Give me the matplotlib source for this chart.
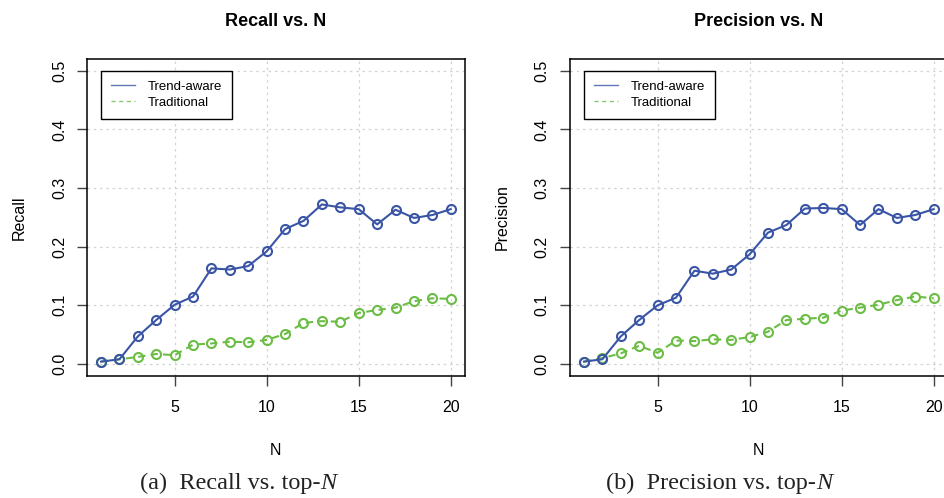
import numpy as np
import matplotlib
matplotlib.use('Agg')
import matplotlib.pyplot as plt

# ---- data ----
n_vals = np.arange(1, 21)

recall_trend = [0.004, 0.008, 0.047, 0.075, 0.101, 0.115, 0.163, 0.161, 0.167, 0.192,
                0.230, 0.244, 0.272, 0.267, 0.264, 0.238, 0.263, 0.249, 0.254, 0.264]
recall_trad = [0.004, 0.008, 0.012, 0.017, 0.015, 0.033, 0.035, 0.038, 0.037, 0.041,
               0.051, 0.070, 0.073, 0.072, 0.087, 0.092, 0.096, 0.107, 0.112, 0.111]

prec_trend = [0.004, 0.008, 0.047, 0.075, 0.100, 0.113, 0.159, 0.154, 0.161, 0.187,
              0.224, 0.237, 0.265, 0.266, 0.264, 0.237, 0.264, 0.249, 0.254, 0.264]
prec_trad = [0.004, 0.010, 0.018, 0.031, 0.019, 0.040, 0.039, 0.042, 0.041, 0.046,
             0.055, 0.075, 0.077, 0.079, 0.091, 0.096, 0.101, 0.109, 0.115, 0.112]

titles   = ['Recall vs. N', 'Precision vs. N']
ylabels  = ['Recall', 'Precision']
captions = ['(a)  Recall vs. top-', '(b)  Precision vs. top-']
series   = [(recall_trend, recall_trad), (prec_trend, prec_trad)]

BLUE  = '#3A55A5'
GREEN = '#6CBD45'

plt.rcParams['font.family'] = ['Liberation Sans', 'DejaVu Sans']

fig = plt.figure(figsize=(9.44, 4.98), dpi=100)
axes_pos = [[0.0922, 0.2456, 0.4001, 0.6359],
            [0.6038, 0.2456, 0.4001, 0.6359]]
cap_x = [0.2437, 0.753]

for i in range(2):
    ax = fig.add_axes(axes_pos[i])
    trend, trad = series[i]

    ax.plot(n_vals, trad, color=GREEN, lw=1.5, dashes=(3.5, 2.5), marker='o', ms=6.5,
            mfc='none', mew=1.5, zorder=3)
    ax.plot(n_vals, trend, color=BLUE, lw=1.5, marker='o', ms=6.5,
            mfc='none', mew=1.5, zorder=4)

    ax.set_xlim(0.24, 20.76)
    ax.set_ylim(-0.02, 0.52)
    ax.set_xticks([5, 10, 15, 20])
    ax.set_yticks([0.0, 0.1, 0.2, 0.3, 0.4, 0.5])
    ax.set_yticklabels(['0.0', '0.1', '0.2', '0.3', '0.4', '0.5'],
                       rotation=90, va='center')
    ax.tick_params(direction='out', length=7.5, width=1, color='#444444',
                   labelsize=11.5, pad=10)
    ax.tick_params(axis='y', pad=7)
    for sp in ax.spines.values():
        sp.set_linewidth(1.1)
        sp.set_color('black')

    ax.grid(True, color='#D3D3D3', linestyle=(0, (2, 3)), linewidth=0.9)
    ax.set_axisbelow(True)

    ax.set_title(titles[i], fontsize=13, fontweight='bold', pad=24)
    ax.set_xlabel('N', fontsize=11.5, labelpad=20)
    ax.set_ylabel(ylabels[i], fontsize=11.5, labelpad=18)

    # legend handles: thin lines, no markers
    h1, = ax.plot([], [], color=BLUE, lw=1, alpha=0.8, label='Trend-aware')
    h2, = ax.plot([], [], color=GREEN, lw=1, alpha=0.8, dashes=(3, 2.5), label='Traditional')
    leg = ax.legend(handles=[h1, h2], loc='upper left', bbox_to_anchor=(0.037, 0.963),
                    borderaxespad=0, fancybox=False, edgecolor='black', framealpha=1,
                    fontsize=9.5, handlelength=1.8, handletextpad=1.0,
                    borderpad=0.75, labelspacing=0.28)
    leg.get_frame().set_linewidth(1.0)

    # caption under each panel, serif with italic N
    t = fig.text(cap_x[i], 0.03, captions[i], fontsize=17.5,
                 family='Liberation Serif', ha='center', va='center', color='#222222')
    fig.canvas.draw()
    ax.annotate('N', xy=(1, 0), xycoords=t, va='bottom', ha='left', fontsize=17.5,
                family='Liberation Serif', style='italic', color='#222222')

fig.savefig('out.png', dpi=100)
